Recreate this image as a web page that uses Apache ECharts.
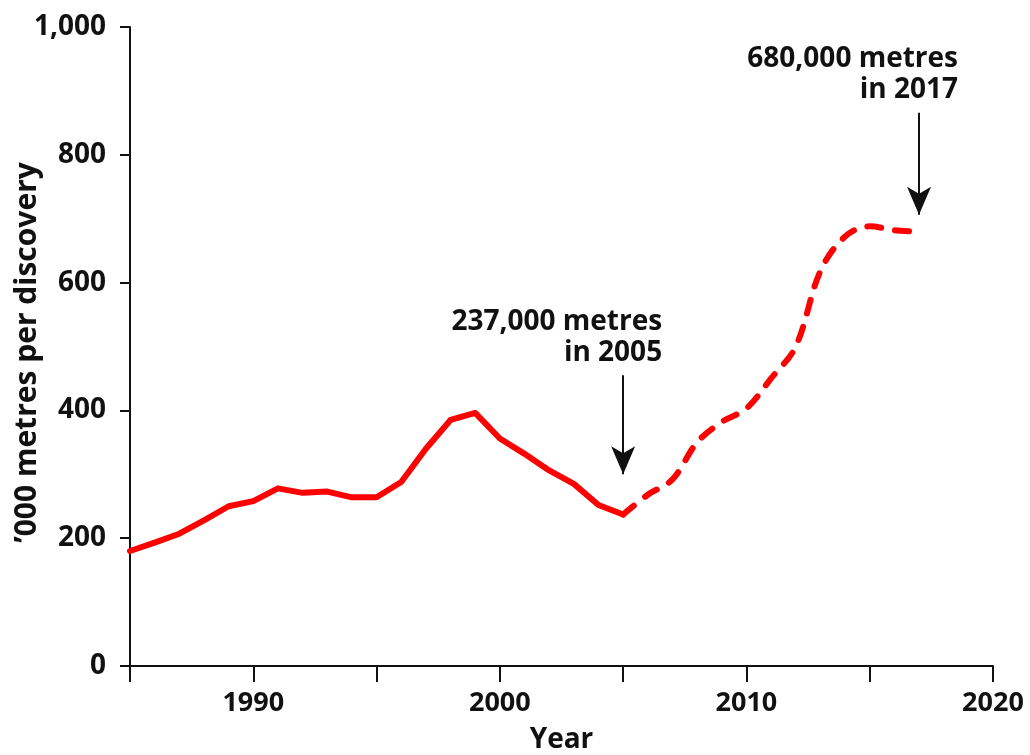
<!DOCTYPE html>
<html>
<head>
<meta charset="utf-8">
<script src="https://cdn.jsdelivr.net/npm/echarts@6/dist/echarts.min.js"></script>
<style>
  html, body { margin: 0; padding: 0; background: #fff; }
  #main { width: 1030px; height: 755px; }
</style>
</head>
<body>
<div id="main"></div>
<script>
// recorded values ('000 metres per discovery)
const recordedYears = [1985, 1986, 1987, 1988, 1989, 1990, 1991, 1992, 1993, 1994, 1995,
  1996, 1997, 1998, 1999, 2000, 2001, 2002, 2003, 2004, 2005];
const recordedValues = [180, 193, 207, 228, 250, 258, 278, 271, 273, 264, 264,
  288, 340, 385, 396, 356, 332, 306, 285, 252, 237];

// projected values, dashed
const projectedYears = [2005, 2006, 2007, 2008, 2009, 2010, 2011, 2012, 2013, 2014, 2015, 2016, 2017];
const projectedValues = [237, 268, 292, 350, 382, 403, 450, 500, 618, 672, 688, 682, 680];

const xTicks = [1985, 1990, 1995, 2000, 2005, 2010, 2015, 2020];
const yTicks = [0, 200, 400, 600, 800, 1000];

// callouts: year, arrow from/to (value units), text
const callouts = [
  {year: 2005, from: 455, to: 300, lines: ['237,000 metres', 'in 2005']},
  {year: 2017, from: 866, to: 706, lines: ['680,000 metres', 'in 2017']}
];

const FONT = '"Open Sans", "DejaVu Sans", sans-serif';
const RED = '#ff0000';
const INK = '#111';

const zip = (xs, ys) => xs.map((x, i) => [x, ys[i]]);

const chart = echarts.init(document.getElementById('main'), null, {renderer: 'canvas'});

chart.setOption({
  animation: false,
  backgroundColor: '#fff',
  grid: {left: 130, right: 37, top: 27, bottom: 89, outerBoundsMode: 'none', containLabel: false},
  xAxis: {
    type: 'value',
    min: xTicks[0],
    max: xTicks[xTicks.length - 1],
    interval: 5,
    name: 'Year',
    nameLocation: 'middle',
    nameGap: 60,
    nameMoveOverlap: false,
    nameTextStyle: {fontFamily: FONT, fontWeight: 'bold', fontSize: 28, color: INK},
    axisLine: {show: true, lineStyle: {color: INK, width: 2}},
    axisTick: {show: true, length: 16, lineStyle: {color: INK, width: 2}},
    axisLabel: {
      margin: 24,
      fontFamily: FONT, fontWeight: 'bold', fontSize: 27, color: INK,
      formatter: v => (v % 10 === 0 ? String(v) : '')
    },
    splitLine: {show: false}
  },
  yAxis: {
    type: 'value',
    min: yTicks[0],
    max: yTicks[yTicks.length - 1],
    interval: 200,
    name: '\u2019000 metres per discovery',
    nameLocation: 'middle',
    nameGap: 88,
    nameRotate: 90,
    nameMoveOverlap: false,
    nameTextStyle: {fontFamily: FONT, fontWeight: 'bold', fontSize: 30, color: INK, padding: [0, 12, 0, 0]},
    axisLine: {show: true, lineStyle: {color: INK, width: 2}},
    axisTick: {show: true, length: 10, lineStyle: {color: INK, width: 2}},
    axisLabel: {
      margin: 24,
      fontFamily: FONT, fontWeight: 'bold', fontSize: 28, color: INK,
      formatter: v => v.toLocaleString('en-US')
    },
    splitLine: {show: false}
  },
  series: [
    {
      type: 'line',
      data: zip(recordedYears, recordedValues),
      showSymbol: false,
      lineStyle: {color: RED, width: 6, join: 'round', cap: 'round'},
      z: 3
    },
    {
      type: 'line',
      data: zip(projectedYears, projectedValues),
      showSymbol: false,
      smooth: 0.35,
      lineStyle: {color: RED, width: 6, type: [14, 14], cap: 'round'},
      z: 3
    },
    {
      type: 'line',
      data: [],
      markLine: {
        silent: true,
        symbol: ['none', 'arrow'],
        symbolSize: [18, 28],
        label: {show: false},
        lineStyle: {color: INK, width: 2, type: 'solid'},
        data: callouts.map(c => [
          {coord: [c.year, c.from]},
          {coord: [c.year, c.to]}
        ])
      }
    }
  ]
});

// text of the callouts, placed from the data scale
const graphics = callouts.map(c => {
  const p = chart.convertToPixel({gridIndex: 0}, [c.year, c.from]);
  return {
    type: 'text',
    x: p[0] + 39,
    y: p[1] - 7,
    style: {
      text: c.lines.join('\n'),
      align: 'right',
      verticalAlign: 'bottom',
      lineHeight: 31,
      font: 'bold 28px ' + FONT,
      fill: INK
    }
  };
});
chart.setOption({graphic: graphics});
</script>
</body>
</html>
